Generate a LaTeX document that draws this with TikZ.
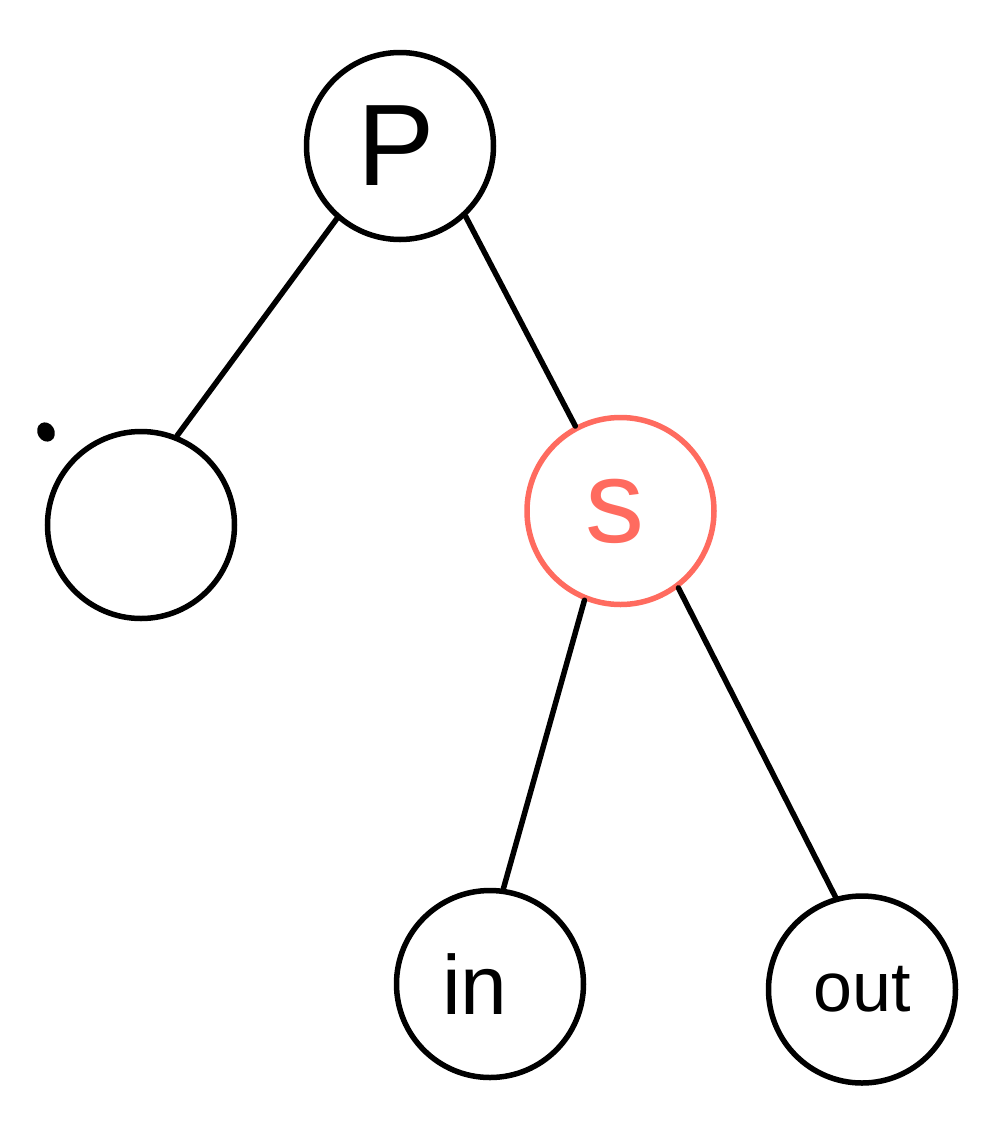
\documentclass[tikz,border=0pt]{standalone}
\usepackage{fontspec}
\setmainfont{Liberation Sans}
\definecolor{salmon}{HTML}{FF6B5F}
\begin{document}
\begin{tikzpicture}[x=1pt,y=-1pt,
  tnode/.style={circle,draw=black,line width=5.5pt,minimum size=187pt,inner sep=0pt},
  edge/.style={draw=black,line width=5.5pt,line cap=round}]
\useasboundingbox (0,0) rectangle (999,1144);
\node[tnode] (P) at (400,146) {\fontsize{116}{116}\selectfont\hspace*{-8pt}P};
\node[tnode] (L) at (141,525) {};
\node[tnode,draw=salmon,text=salmon] (S) at (620.5,511) {\fontsize{118}{118}\selectfont\hspace*{-12pt}s};
\node[tnode] (IN) at (490,984) {\fontsize{84}{84}\selectfont\hspace*{-30pt}in};
\node[tnode] (OUT) at (862,989.5) {\fontsize{70}{70}\selectfont out};
\fill[black,rotate around={-60:(46,432)}] (46,432) ellipse (10pt and 8.5pt);
\draw[edge] (P.229) -- (L.68);
\draw[edge] (P.-47) -- (S.118);
\draw[edge] (S.248) -- (IN.82);
\draw[edge] (S.-53) -- (OUT.106);
\end{tikzpicture}
\end{document}
